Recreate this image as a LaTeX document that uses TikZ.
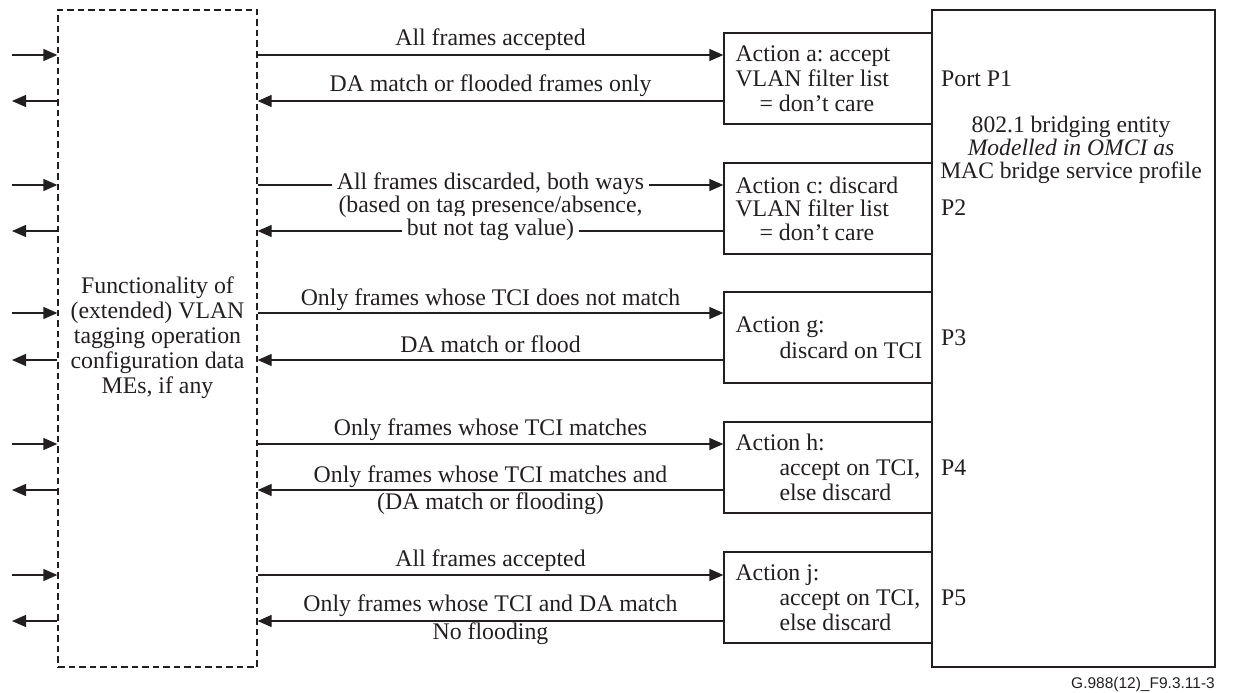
\documentclass[tikz,border=0pt]{standalone}
\usepackage{fontspec}
\setmainfont{Liberation Serif}
\newfontfamily\footfont{Liberation Sans}
\usetikzlibrary{arrows.meta}
\definecolor{ink}{RGB}{35,31,32}
\frenchspacing
\begin{document}
\begin{tikzpicture}[x=1pt,y=-1pt,
  every node/.style={inner sep=0pt, text=ink},
  txt/.style={font=\fontsize{23.8}{25}\selectfont},
  ln/.style={draw=ink, line width=1.3pt},
  arr/.style={ln, -{Triangle[length=14pt,width=12pt]}},
  dbox/.style={draw=ink, line width=1.3pt, dash pattern=on 6.5pt off 4pt, rectangle, minimum width=199pt, minimum height=657pt},
  bigbox/.style={ln, rectangle, minimum width=283pt, minimum height=657pt},
  actbox/.style={ln, rectangle, minimum width=208pt, minimum height=91pt},
  acttxt/.style={txt, align=left, anchor=west},
  lbl/.style={txt, anchor=base},
  gaplbl/.style={txt, anchor=base, fill=white, inner xsep=5pt, inner ysep=2pt},
  port/.style={txt, anchor=base west}
]
\useasboundingbox (0,0) rectangle (1240,693);

% boxes
\node[dbox] (F) at (157.5,338.5) {};
\node[txt, align=center] (Ft) at (157.5,338) {Functionality of\\(extended) VLAN\\tagging operation\\configuration data\\MEs, if any};

\node[bigbox] (B) at (1073.5,338.5) {};
\node[font=\fontsize{23.6}{23.3}\selectfont, align=center] (Bt) at (1071,150) {802.1 bridging entity\\\textit{Modelled in OMCI as}\\MAC bridge service profile};

\node[actbox] (A1) at (828,78.5) {};
\node[actbox] (A2) at (828,208.5) {};
\node[actbox] (A3) at (828,337.5) {};
\node[actbox] (A4) at (828,467.5) {};
\node[actbox] (A5) at (828,597.5) {};

\node[acttxt] (A1t) at ([xshift=12pt]A1.west) {Action a: accept\\VLAN filter list\\\hspace*{24pt}= don’t care};
\node[acttxt, font=\fontsize{23.8}{23.5}\selectfont] (A2t) at ([xshift=12pt]A2.west) {Action c: discard\\VLAN filter list\\\hspace*{24pt}= don’t care};
\node[acttxt, font=\fontsize{23.8}{26}\selectfont] (A3t) at ([xshift=12pt]A3.west) {Action g:\\\hspace*{44pt}discard on TCI};
\node[acttxt] (A4t) at ([xshift=12pt]A4.west) {Action h:\\\hspace*{44pt}accept on TCI,\\\hspace*{44pt}else discard};
\node[acttxt] (A5t) at ([xshift=12pt]A5.west) {Action j:\\\hspace*{44pt}accept on TCI,\\\hspace*{44pt}else discard};

% port labels
\node[port] (P1) at (941,87) {Port P1};
\node[port] (P2) at (941,215) {P2};
\node[port] (P3) at (941,345) {P3};
\node[port] (P4) at (941,475) {P4};
\node[port] (P5) at (941,605) {P5};

% connection points on action boxes
\coordinate (a1i) at ([yshift=23.5pt]A1.west);
\coordinate (a1o) at ([yshift=-22.5pt]A1.west);
\coordinate (a2i) at ([yshift=23.5pt]A2.west);
\coordinate (a2o) at ([yshift=-22.5pt]A2.west);
\coordinate (a3i) at ([yshift=24.5pt]A3.west);
\coordinate (a3o) at ([yshift=-22.5pt]A3.west);
\coordinate (a4i) at ([yshift=23.5pt]A4.west);
\coordinate (a4o) at ([yshift=-22.5pt]A4.west);
\coordinate (a5i) at ([yshift=22.5pt]A5.west);
\coordinate (a5o) at ([yshift=-23.5pt]A5.west);

% arrows between functionality box and action boxes
\foreach \k in {1,...,5}{
  \draw[arr] (F.east |- a\k i) -- (a\k i);
  \draw[arr] (a\k o) -- (F.east |- a\k o);
}

% external arrows on the left
\coordinate (e1i) at (12,55);  \coordinate (e1o) at (12,101);
\coordinate (e2i) at (12,185); \coordinate (e2o) at (12,231);
\coordinate (e3i) at (12,313); \coordinate (e3o) at (12,360);
\coordinate (e4i) at (12,444); \coordinate (e4o) at (12,490);
\coordinate (e5i) at (12,575); \coordinate (e5o) at (12,621);
\foreach \k in {1,...,5}{
  \draw[arr] (e\k i) -- (F.west |- e\k i);
  \draw[arr] (F.west |- e\k o) -- (e\k o);
}

% arrow labels
\node[lbl] (L1i) at (490.5,46) {All frames accepted};
\node[lbl] (L1o) at (490.5,92) {DA match or flooded frames only};
\node[gaplbl] (L2i) at (490.5,189) {All frames discarded, both ways};
\node[lbl] (L2m) at (490.5,212) {(based on tag presence/absence,};
\node[gaplbl] (L2o) at (490.5,235) {but not tag value)};
\node[lbl] (L3i) at (490.5,305) {Only frames whose TCI does not match};
\node[lbl] (L3o) at (490.5,352) {DA match or flood};
\node[lbl] (L4i) at (490.5,435) {Only frames whose TCI matches};
\node[lbl] (L4o) at (490.5,482) {Only frames whose TCI matches and};
\node[lbl] (L4b) at (490.5,509) {(DA match or flooding)};
\node[lbl] (L5i) at (490.5,566) {All frames accepted};
\node[lbl] (L5o) at (490.5,611) {Only frames whose TCI and DA match};
\node[lbl] (L5b) at (490.5,639) {No flooding};

% figure id
\node[font=\footfont\fontsize{15.5}{18}\selectfont, anchor=base east] (fig) at (1215,688) {G.988(12)\_F9.3.11-3};
\end{tikzpicture}
\end{document}
